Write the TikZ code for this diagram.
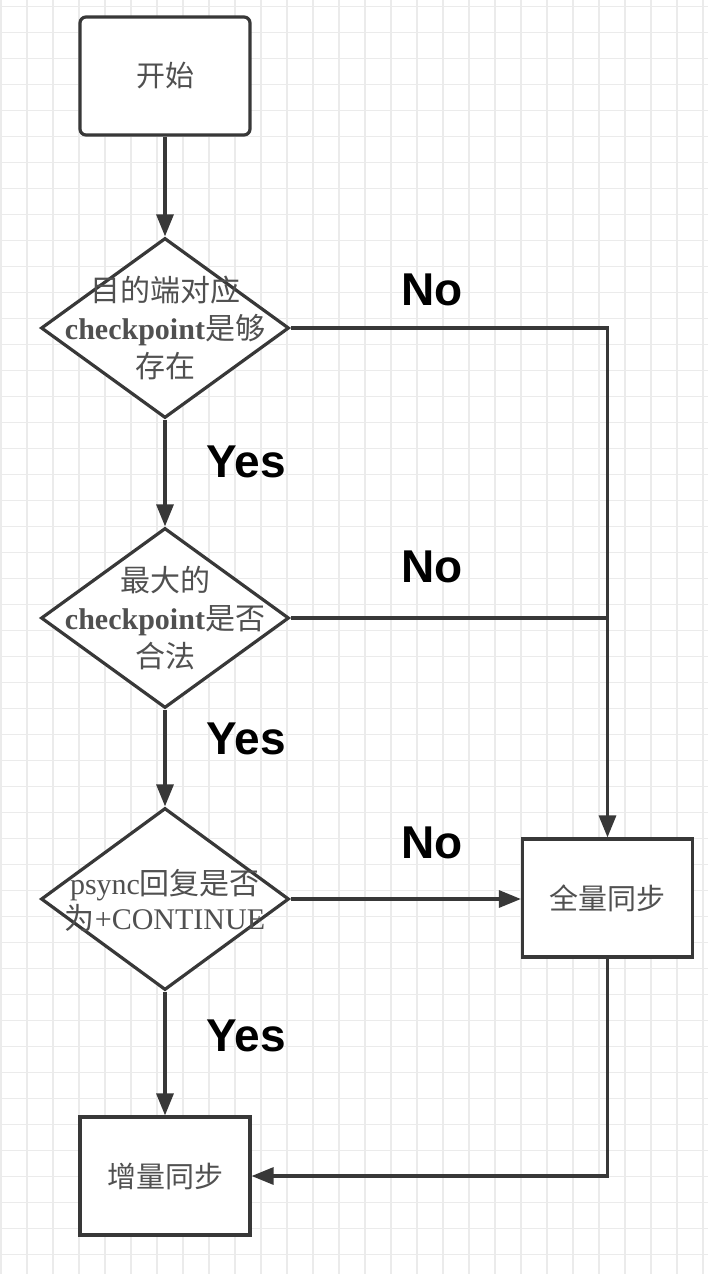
\documentclass[tikz,border=0pt]{standalone}
\usepackage{fontspec}
\setmainfont{Liberation Serif}
\newfontfamily\cjk{Noto Sans CJK SC}
\newfontfamily\labelfont{Liberation Sans}
\usepackage{xcolor}
\usetikzlibrary{arrows.meta,shapes.geometric,positioning}

\definecolor{linegray}{HTML}{383838}
\definecolor{textgray}{HTML}{505050}
\definecolor{gridgray}{HTML}{EBEBEB}
\newcommand{\zh}[1]{{\cjk #1}}

\begin{document}
\begin{tikzpicture}
	[x=1pt,y=-1pt,
	box/.style={draw=linegray,line width=3.2pt,fill=white,minimum width=170pt,minimum height=118pt,inner sep=0pt,text=textgray,font=\cjk\fontsize{29pt}{34pt}\selectfont},
	decision/.style={diamond,draw=linegray,line width=3.2pt,fill=white,minimum width=248pt,minimum height=180pt,inner sep=0pt},
	dtext/.style={align=center,text=textgray,inner sep=0pt,font=\fontsize{30pt}{38pt}\selectfont},
	answer/.style={font=\labelfont\bfseries\fontsize{46pt}{46pt}\selectfont,inner sep=0pt},
	conn/.style={draw=linegray,line width=3.2pt,-{Triangle[length=22pt,width=17pt]}},
	link/.style={draw=linegray,line width=3.2pt}]
	\useasboundingbox (0,0) rectangle (708,1274);
	\fill[white] (0,0) rectangle (708,1274);
	% background grid
	\begin{scope}
		\clip (0,0) rectangle (708,1274);
		\draw[gridgray,line width=1.4pt,shift={(1,6.5)},step=26pt] (-26,-26) grid (734,1300);
	\end{scope}
	% nodes
	\node[box,rounded corners=6pt] (start) at (165,76) {开始};
	\node[decision] (check) at (165,328) {};
	\node[dtext] at (check) {\zh{目的端对应}\\\textbf{checkpoint}\zh{是够}\\\zh{存在}};
	\node[decision] (valid) at (165,618) {};
	\node[dtext] at (valid) {\zh{最大的}\\\textbf{checkpoint}\zh{是否}\\\zh{合法}};
	\node[decision,minimum height=182pt] (psync) at (165,899) {};
	\node[dtext,font=\fontsize{30pt}{35pt}\selectfont] at ([yshift=-1pt]psync) {psync\zh{回复是否}\\\zh{为}+CONTINUE};
	\node[box] (full) at (607.5,898) {全量同步};
	\node[box] (incr) at (165,1176) {增量同步};
	% answers
	\node[answer] (no1) at (432,290) {No};
	\node[answer] (no2) at (432,567) {No};
	\node[answer] (no3) at (432,843) {No};
	\node[answer] (yes1) at (246,462) {Yes};
	\node[answer] (yes2) at (246,739) {Yes};
	\node[answer] (yes3) at (246,1036) {Yes};
	% connectors
	\draw[conn] (start) -- (check);
	\draw[conn] (check) -- (valid);
	\draw[conn] (valid) -- (psync);
	\draw[conn] (psync) -- (incr);
	\draw[conn] (check.east) -| (full.north);
	\draw[link] (valid.east) -- (valid.east -| full.north);
	\draw[conn] (psync.east) -- (psync.east -| full.west);
	\draw[conn] (full.south) |- (incr.east);
\end{tikzpicture}
\end{document}
